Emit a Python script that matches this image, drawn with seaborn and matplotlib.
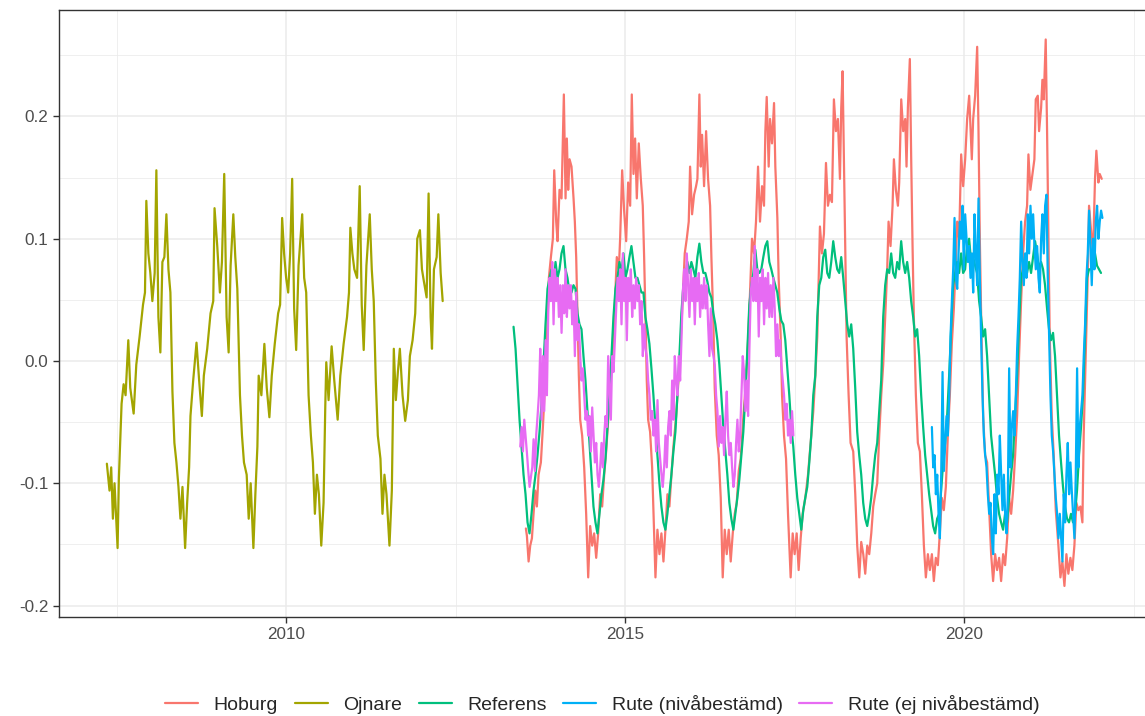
import numpy as np
import pandas as pd
import seaborn as sns
import matplotlib.pyplot as plt

# series names and colours (ggplot default hue palette)
series_names = ["Hoburg", "Ojnare", "Referens", "Rute (nivåbestämd)", "Rute (ej nivåbestämd)"]
series_colors = ["#F8766D", "#A3A500", "#00BF7D", "#00B0F6", "#E76BF3"]

# Ojnare, decimal year / value
ojnare_year = [
    2007.356, 2007.395, 2007.420, 2007.445, 2007.469, 2007.514, 2007.533, 2007.573, 2007.603, 2007.632,
    2007.672, 2007.701, 2007.751, 2007.790, 2007.839, 2007.889, 2007.918, 2007.938, 2007.968, 2007.997,
    2008.027, 2008.061, 2008.086, 2008.116, 2008.145, 2008.175, 2008.204, 2008.234, 2008.264, 2008.293,
    2008.323, 2008.352, 2008.382, 2008.412, 2008.441, 2008.471, 2008.510, 2008.540, 2008.569, 2008.589,
    2008.629, 2008.678, 2008.717, 2008.757, 2008.786, 2008.836, 2008.885, 2008.925, 2008.944, 2008.984,
    2009.023, 2009.053, 2009.087, 2009.122, 2009.152, 2009.181, 2009.221, 2009.250, 2009.280, 2009.319,
    2009.349, 2009.378, 2009.418, 2009.448, 2009.477, 2009.517, 2009.546, 2009.576, 2009.595, 2009.635,
    2009.679, 2009.714, 2009.753, 2009.788, 2009.832, 2009.882, 2009.911, 2009.941, 2009.970, 2010.000,
    2010.030, 2010.059, 2010.089, 2010.118, 2010.148, 2010.183, 2010.237, 2010.266, 2010.296, 2010.331,
    2010.365, 2010.395, 2010.424, 2010.454, 2010.483, 2010.518, 2010.552, 2010.577, 2010.592, 2010.626,
    2010.671, 2010.710, 2010.760, 2010.799, 2010.848, 2010.898, 2010.927, 2010.947, 2010.977, 2011.006,
    2011.046, 2011.085, 2011.115, 2011.144, 2011.184, 2011.233, 2011.263, 2011.292, 2011.322, 2011.352,
    2011.391, 2011.421, 2011.450, 2011.480, 2011.524, 2011.559, 2011.588, 2011.618, 2011.648, 2011.677,
    2011.717, 2011.756, 2011.796, 2011.825, 2011.865, 2011.904, 2011.934, 2011.973, 2012.003, 2012.032,
    2012.072, 2012.101, 2012.131, 2012.151, 2012.180, 2012.220, 2012.245, 2012.279, 2012.309,
]
ojnare_value = [
    -0.084, -0.106, -0.087, -0.129, -0.10, -0.153, -0.096, -0.035, -0.019, -0.028,
    0.017, -0.022, -0.043, -0.003, 0.02, 0.046, 0.056, 0.131, 0.088, 0.072,
    0.049, 0.072, 0.156, 0.036, 0.007, 0.081, 0.085, 0.12, 0.075, 0.056,
    -0.025, -0.067, -0.083, -0.103, -0.129, -0.103, -0.153, -0.116, -0.087, -0.045,
    -0.016, 0.015, -0.016, -0.045, -0.012, 0.01, 0.039, 0.049, 0.125, 0.094,
    0.056, 0.081, 0.153, 0.036, 0.007, 0.078, 0.12, 0.085, 0.059, -0.028,
    -0.061, -0.083, -0.093, -0.129, -0.10, -0.153, -0.109, -0.07, -0.012, -0.028,
    0.014, -0.022, -0.046, -0.012, 0.014, 0.039, 0.046, 0.117, 0.088, 0.068,
    0.056, 0.088, 0.149, 0.043, 0.009, 0.078, 0.12, 0.068, 0.056, -0.028,
    -0.061, -0.083, -0.125, -0.093, -0.109, -0.151, -0.116, -0.038, -0.001, -0.032,
    0.012, -0.016, -0.048, -0.012, 0.014, 0.036, 0.056, 0.109, 0.088, 0.075,
    0.068, 0.143, 0.046, 0.009, 0.078, 0.12, 0.075, 0.049, -0.016, -0.061,
    -0.08, -0.125, -0.093, -0.109, -0.151, -0.106, 0.01, -0.032, -0.009, 0.01,
    -0.028, -0.049, -0.032, 0.004, 0.017, 0.039, 0.10, 0.107, 0.075, 0.065,
    0.052, 0.137, 0.036, 0.01, 0.075, 0.085, 0.12, 0.072, 0.049,
]

# Hoburg, decimal year / value
hoburg_year = [
    2013.536, 2013.551, 2013.576, 2013.600, 2013.625, 2013.649, 2013.674, 2013.698, 2013.723, 2013.757,
    2013.787, 2013.821, 2013.846, 2013.875, 2013.905, 2013.934, 2013.954, 2013.983, 2014.003, 2014.032,
    2014.062, 2014.096, 2014.121, 2014.140, 2014.160, 2014.180, 2014.209, 2014.239, 2014.258, 2014.278,
    2014.298, 2014.317, 2014.337, 2014.366, 2014.396, 2014.425, 2014.455, 2014.484, 2014.514, 2014.543,
    2014.573, 2014.602, 2014.632, 2014.661, 2014.691, 2014.720, 2014.754, 2014.789, 2014.818, 2014.848,
    2014.877, 2014.907, 2014.926, 2014.956, 2014.985, 2015.015, 2015.044, 2015.074, 2015.098, 2015.123,
    2015.147, 2015.172, 2015.201, 2015.231, 2015.260, 2015.280, 2015.300, 2015.319, 2015.339, 2015.368,
    2015.398, 2015.418, 2015.447, 2015.476, 2015.506, 2015.535, 2015.565, 2015.594, 2015.624, 2015.653,
    2015.683, 2015.712, 2015.752, 2015.791, 2015.820, 2015.850, 2015.879, 2015.909, 2015.938, 2015.958,
    2015.987, 2016.017, 2016.046, 2016.066, 2016.095, 2016.115, 2016.135, 2016.164, 2016.194, 2016.223,
    2016.253, 2016.272, 2016.302, 2016.321, 2016.351, 2016.380, 2016.410, 2016.439, 2016.469, 2016.498,
    2016.528, 2016.557, 2016.587, 2016.616, 2016.646, 2016.675, 2016.704, 2016.744, 2016.783, 2016.813,
    2016.842, 2016.871, 2016.901, 2016.930, 2016.960, 2016.989, 2017.019, 2017.048, 2017.068, 2017.088,
    2017.117, 2017.137, 2017.166, 2017.196, 2017.215, 2017.245, 2017.264, 2017.294, 2017.314, 2017.343,
    2017.373, 2017.402, 2017.441, 2017.471, 2017.500, 2017.530, 2017.559, 2017.589, 2017.618, 2017.657,
    2017.697, 2017.736, 2017.775, 2017.805, 2017.834, 2017.873, 2017.903, 2017.932, 2017.962, 2017.991,
    2018.020, 2018.050, 2018.079, 2018.109, 2018.138, 2018.168, 2018.187, 2018.207, 2018.227, 2018.246,
    2018.266, 2018.296, 2018.325, 2018.364, 2018.394, 2018.423, 2018.453, 2018.482, 2018.512, 2018.541,
    2018.571, 2018.600, 2018.630, 2018.659, 2018.688, 2018.718, 2018.747, 2018.777, 2018.806, 2018.836,
    2018.865, 2018.885, 2018.914, 2018.944, 2018.964, 2018.993, 2019.023, 2019.042, 2019.072, 2019.101,
    2019.131, 2019.150, 2019.170, 2019.199, 2019.219, 2019.239, 2019.258, 2019.288, 2019.317, 2019.347,
    2019.376, 2019.406, 2019.435, 2019.465, 2019.494, 2019.524, 2019.553, 2019.582, 2019.612, 2019.641,
    2019.671, 2019.700, 2019.730, 2019.759, 2019.789, 2019.818, 2019.848, 2019.877, 2019.897, 2019.926,
    2019.956, 2019.985, 2020.015, 2020.044, 2020.074, 2020.093, 2020.113, 2020.133, 2020.162, 2020.192,
    2020.211, 2020.231, 2020.251, 2020.280, 2020.309, 2020.339, 2020.368, 2020.398, 2020.427, 2020.457,
    2020.486, 2020.516, 2020.545, 2020.575, 2020.604, 2020.634, 2020.663, 2020.693, 2020.722, 2020.752,
    2020.781, 2020.810, 2020.840, 2020.869, 2020.899, 2020.928, 2020.948, 2020.977, 2021.007, 2021.036,
    2021.056, 2021.086, 2021.105, 2021.135, 2021.154, 2021.174, 2021.203, 2021.223, 2021.243, 2021.262,
    2021.292, 2021.321, 2021.351, 2021.390, 2021.420, 2021.449, 2021.479, 2021.508, 2021.537, 2021.567,
    2021.596, 2021.626, 2021.655, 2021.685, 2021.714, 2021.744, 2021.763, 2021.793, 2021.822, 2021.842,
    2021.871, 2021.901, 2021.930, 2021.950, 2021.980, 2021.999, 2022.029,
]
hoburg_value = [
    -0.137, -0.143, -0.164, -0.151, -0.145, -0.125, -0.106, -0.119, -0.093, -0.083,
    -0.054, -0.016, 0.017, 0.068, 0.085, 0.10, 0.156, 0.114, 0.098, 0.14,
    0.133, 0.218, 0.133, 0.182, 0.14, 0.165, 0.159, 0.133, 0.114, 0.085,
    0.036, -0.012, -0.048, -0.061, -0.087, -0.125, -0.177, -0.135, -0.151, -0.141,
    -0.161, -0.141, -0.109, -0.119, -0.093, -0.074, -0.045, -0.016, 0.01, 0.046,
    0.085, 0.075, 0.10, 0.156, 0.123, 0.098, 0.146, 0.127, 0.218, 0.153,
    0.182, 0.133, 0.178, 0.149, 0.127, 0.085, 0.036, -0.016, -0.048, -0.058,
    -0.087, -0.125, -0.177, -0.138, -0.158, -0.141, -0.164, -0.138, -0.109, -0.119,
    -0.093, -0.07, -0.045, -0.012, 0.017, 0.052, 0.088, 0.10, 0.114, 0.159,
    0.12, 0.136, 0.143, 0.149, 0.218, 0.159, 0.185, 0.143, 0.188, 0.149,
    0.127, 0.085, 0.03, -0.022, -0.061, -0.077, -0.112, -0.177, -0.138, -0.158,
    -0.138, -0.164, -0.141, -0.125, -0.116, -0.09, -0.08, -0.045, -0.016, 0.017,
    0.056, 0.10, 0.088, 0.114, 0.159, 0.114, 0.143, 0.127, 0.188, 0.216,
    0.159, 0.198, 0.178, 0.211, 0.159, 0.117, 0.068, 0.02, -0.028, -0.061,
    -0.08, -0.125, -0.177, -0.141, -0.158, -0.141, -0.171, -0.145, -0.125, -0.112,
    -0.093, -0.067, -0.041, -0.012, 0.02, 0.11, 0.088, 0.104, 0.162, 0.127,
    0.136, 0.13, 0.214, 0.188, 0.198, 0.149, 0.207, 0.237, 0.165, 0.094,
    0.02, -0.028, -0.067, -0.074, -0.109, -0.151, -0.177, -0.148, -0.158, -0.174,
    -0.151, -0.158, -0.141, -0.119, -0.109, -0.10, -0.061, -0.028, -0.003, 0.036,
    0.075, 0.114, 0.094, 0.127, 0.165, 0.14, 0.127, 0.146, 0.214, 0.188,
    0.198, 0.159, 0.207, 0.247, 0.165, 0.094, 0.036, -0.028, -0.067, -0.074,
    -0.109, -0.151, -0.177, -0.158, -0.171, -0.158, -0.18, -0.161, -0.167, -0.141,
    -0.112, -0.122, -0.103, -0.061, -0.028, 0.014, 0.043, 0.081, 0.114, 0.10,
    0.169, 0.143, 0.165, 0.198, 0.217, 0.191, 0.165, 0.198, 0.217, 0.257,
    0.191, 0.10, 0.036, -0.045, -0.077, -0.083, -0.119, -0.158, -0.18, -0.158,
    -0.171, -0.161, -0.18, -0.158, -0.167, -0.145, -0.112, -0.125, -0.106, -0.077,
    -0.045, 0.004, 0.049, 0.088, 0.114, 0.127, 0.169, 0.14, 0.153, 0.165,
    0.214, 0.217, 0.188, 0.207, 0.23, 0.214, 0.263, 0.188, 0.10, 0.02,
    -0.045, -0.077, -0.122, -0.151, -0.177, -0.164, -0.184, -0.158, -0.174, -0.161,
    -0.171, -0.151, -0.116, -0.122, -0.119, -0.132, -0.061, 0.004, 0.068, 0.127,
    0.107, 0.088, 0.149, 0.172, 0.146, 0.153, 0.149,
]

# Referens, regular sampling from referens_start every referens_step years
referens_start = 2013.354
referens_step = 0.02947
referens_value = [
    0.028, 0.01, -0.019, -0.048, -0.07, -0.093, -0.109, -0.132, -0.141, -0.125,
    -0.106, -0.093, -0.077, -0.058, -0.035, -0.003, 0.03, 0.059, 0.068, 0.075,
    0.062, 0.081, 0.068, 0.075, 0.088, 0.094, 0.075, 0.068, 0.056, 0.056,
    0.062, 0.059, 0.039, 0.03, 0.026, 0.004, -0.016, -0.041, -0.067, -0.093,
    -0.119, -0.132, -0.141, -0.125, -0.109, -0.097, -0.08, -0.054, -0.028, 0.004,
    0.036, 0.059, 0.068, 0.081, 0.072, 0.088, 0.068, 0.075, 0.085, 0.094,
    0.081, 0.068, 0.068, 0.062, 0.056, 0.056, 0.036, 0.026, 0.014, -0.006,
    -0.028, -0.054, -0.077, -0.10, -0.119, -0.132, -0.138, -0.125, -0.109, -0.093,
    -0.074, -0.058, -0.028, 0.004, 0.039, 0.062, 0.068, 0.081, 0.072, 0.081,
    0.075, 0.068, 0.085, 0.096, 0.081, 0.072, 0.072, 0.065, 0.056, 0.052,
    0.039, 0.03, 0.017, -0.003, -0.028, -0.054, -0.074, -0.093, -0.116, -0.129,
    -0.138, -0.125, -0.112, -0.097, -0.077, -0.058, -0.028, 0.01, 0.046, 0.062,
    0.072, 0.091, 0.075, 0.072, 0.075, 0.085, 0.094, 0.098, 0.081, 0.075,
    0.068, 0.062, 0.056, 0.043, 0.033, 0.03, 0.017, -0.006, -0.028, -0.054,
    -0.07, -0.093, -0.112, -0.125, -0.138, -0.122, -0.112, -0.103, -0.083, -0.061,
    -0.028, -0.012, 0.036,
    0.062, 0.068, 0.085, 0.091, 0.072, 0.068, 0.081, 0.098, 0.085, 0.075,
    0.072, 0.085, 0.068, 0.049, 0.03, 0.02, 0.03, 0.01, -0.022, -0.058,
    -0.077, -0.093, -0.116, -0.129, -0.135, -0.125, -0.112, -0.093, -0.077, -0.067,
    -0.041, -0.016, 0.036, 0.062, 0.075, 0.072, 0.088, 0.072, 0.068, 0.081,
    0.075, 0.098, 0.081, 0.072, 0.081, 0.068, 0.049, 0.036, 0.02, 0.026,
    0.004, -0.028, -0.054, -0.077, -0.093, -0.109, -0.122, -0.135, -0.141, -0.129,
    -0.125, -0.106, -0.083, -0.067, -0.045, -0.012, 0.026, 0.062, 0.072, 0.081,
    0.072, 0.088, 0.072, 0.075, 0.094, 0.10, 0.081, 0.085, 0.078, 0.072,
    0.049, 0.036, 0.02, 0.026, 0.004, -0.028, -0.061, -0.077, -0.093, -0.112,
    -0.125, -0.132, -0.138, -0.125, -0.132, -0.112, -0.093, -0.077, -0.045, -0.012,
    0.03, 0.068, 0.075, 0.085, 0.072, 0.081, 0.072, 0.085, 0.098, 0.088,
    0.075, 0.081, 0.075, 0.062, 0.043, 0.026, 0.017, 0.023, 0.004, -0.028,
    -0.061, -0.083, -0.103, -0.119, -0.129, -0.132, -0.125, -0.132, -0.125, -0.106,
    -0.077, -0.054, -0.028, 0.02, 0.068, 0.075, 0.075, 0.081, 0.088, 0.078,
    0.075, 0.072,
]

# Rute (nivåbestämd), weekly-ish sampling
rute_niva_start = 2019.524
rute_niva_step = 0.01965
rute_niva_value = [
    -0.054, -0.087, -0.077, -0.109, -0.093, -0.125, -0.145, -0.093, -0.009, -0.09,
    -0.067, -0.045, -0.061, -0.028, 0.02, 0.049, 0.075, 0.117, 0.068, 0.059,
    0.088, 0.114, 0.10, 0.127, 0.075, 0.12, 0.10, 0.081, 0.094, 0.068,
    0.088, 0.056, 0.12, 0.088, 0.062, 0.133, 0.068, 0.017, -0.028, -0.061,
    -0.077, -0.087, -0.109, -0.125, -0.116, -0.145, -0.158, -0.109, -0.141, -0.093,
    -0.109, -0.061, -0.093, -0.122, -0.093, -0.125, -0.141, -0.112, -0.006, -0.087,
    -0.054, -0.041, -0.061, -0.028, 0.01, 0.036, 0.068, 0.114, 0.081, 0.062,
    0.088, 0.068, 0.12, 0.088, 0.127, 0.10, 0.12, 0.094, 0.075, 0.094,
    0.068, 0.056, 0.10, 0.12, 0.088, 0.127, 0.136, 0.068, 0.02, -0.028,
    -0.061, -0.074, -0.093, -0.112, -0.125, -0.145, -0.125, -0.145, -0.164, -0.109,
    -0.132, -0.093, -0.067, -0.109, -0.083, -0.106, -0.125, -0.145, -0.093, -0.006,
    -0.087, -0.054, -0.041, -0.028, 0.004, 0.03, 0.068, 0.088, 0.123, 0.094,
    0.062, 0.10, 0.075, 0.114, 0.127, 0.10, 0.114, 0.123, 0.117,
]

# Rute (ej nivåbestämd), weekly-ish sampling
rute_ej_start = 2013.453
rute_ej_step = 0.01965
rute_ej_value = [
    -0.07, -0.054, -0.074, -0.048, -0.061, -0.075, -0.09, -0.103, -0.095, -0.087,
    -0.064, -0.09, -0.06, -0.045, -0.028, 0.01, -0.048, 0.004, -0.041, 0.017,
    -0.028, 0.039, 0.068, 0.049, 0.081, 0.03, 0.075, 0.049, 0.068, 0.036,
    0.062, 0.023, 0.062, 0.039, 0.075, 0.036, 0.062, 0.043, 0.062, 0.03,
    0.049, 0.004, 0.056, 0.017, 0.03, 0.004, -0.016, -0.006, -0.028, -0.048,
    -0.041, -0.061, -0.045, -0.074, -0.038, -0.061, -0.083, -0.067, -0.093, -0.103,
    -0.087, -0.067, -0.087, -0.061, -0.045, -0.054, 0.004, -0.022, -0.048, 0.004,
    -0.009, 0.017, 0.043, 0.068, 0.049, 0.075, 0.03, 0.088, 0.049, 0.068,
    0.017, 0.068, 0.049, 0.075, 0.036, 0.062, 0.043, 0.068, 0.049, 0.062,
    0.03, 0.049, 0.004, 0.03, 0.01, 0.004, -0.016, -0.028, -0.048, -0.041,
    -0.061, -0.048, -0.074, -0.032, -0.067, -0.08, -0.093, -0.103, -0.087, -0.061,
    -0.087, -0.054, -0.041, -0.061, -0.016, -0.048, 0.004, -0.016, -0.028, 0.004,
    -0.016, 0.017, 0.056, 0.075, 0.049, 0.088, 0.062, 0.036, 0.075, 0.049,
    0.068, 0.03, 0.068, 0.049, 0.072, 0.036, 0.062, 0.043, 0.068, 0.043,
    0.062, 0.03, 0.004, 0.043, 0.01, 0.004, -0.003, -0.028, -0.041, -0.07,
    -0.045, -0.067, -0.054, -0.077, -0.048, -0.025, -0.061, -0.077, -0.067, -0.087,
    -0.103, -0.093, -0.067, -0.048, -0.074, -0.061, -0.028, 0.004, -0.009, -0.041,
    -0.016, -0.045, 0.01, 0.056, 0.068, 0.049, 0.094, 0.049, 0.075, 0.02,
    0.068, 0.049, 0.075, 0.03, 0.068, 0.043, 0.072, 0.036, 0.062, 0.036,
    0.068, 0.043, 0.004, 0.03, 0.004, 0.017, -0.003, -0.016, -0.028, -0.048,
    -0.035, -0.061, -0.048, -0.067, -0.041, -0.061,
]

x_ticks = [2010, 2015, 2020]
x_minor = [2007.5, 2012.5, 2017.5, 2022.5]
y_ticks = [-0.2, -0.1, 0.0, 0.1, 0.2]
y_ticklabels = ["-0.2", "-0.1", "0.0", "0.1", "0.2"]
y_minor = [-0.15, -0.05, 0.05, 0.15, 0.25]


def regular(start, step, values):
    return np.round(start + step * np.arange(len(values)), 4)


frames = [
    pd.DataFrame({"year": hoburg_year, "value": hoburg_value, "serie": series_names[0]}),
    pd.DataFrame({"year": ojnare_year, "value": ojnare_value, "serie": series_names[1]}),
    pd.DataFrame({"year": regular(referens_start, referens_step, referens_value),
                  "value": referens_value, "serie": series_names[2]}),
    pd.DataFrame({"year": regular(rute_niva_start, rute_niva_step, rute_niva_value),
                  "value": rute_niva_value, "serie": series_names[3]}),
    pd.DataFrame({"year": regular(rute_ej_start, rute_ej_step, rute_ej_value),
                  "value": rute_ej_value, "serie": series_names[4]}),
]
df = pd.concat(frames, ignore_index=True)

sns.set_style("white")
plt.rcParams['font.family'] = ['Liberation Sans', 'DejaVu Sans']

fig = plt.figure(figsize=(11.45, 7.16), dpi=100)
ax = fig.add_axes([59 / 1145, 99 / 716, 1095 / 1145, 607 / 716])

sns.lineplot(data=df, x="year", y="value", hue="serie", hue_order=series_names,
             palette=series_colors, estimator=None, sort=False, linewidth=1.6, ax=ax)

ax.set_xlim(2006.65, 2022.80)
ax.set_ylim(-0.2094, 0.2871)
ax.set_xticks(x_ticks)
ax.set_xticklabels([str(t) for t in x_ticks])
ax.set_xticks(x_minor, minor=True)
ax.set_yticks(y_ticks)
ax.set_yticklabels(y_ticklabels)
ax.set_yticks(y_minor, minor=True)
ax.set_xlabel("")
ax.set_ylabel("")

ax.set_axisbelow(True)
ax.grid(which="major", color="#EBEBEB", linewidth=1.1)
ax.grid(which="minor", color="#EBEBEB", linewidth=0.55)
for s in ax.spines.values():
    s.set_visible(True)
    s.set_color("#333333")
    s.set_linewidth(1.0)
ax.tick_params(which="major", direction="out", length=4, width=1.0, color="#333333",
               labelsize=12.3, labelcolor="#4D4D4D", pad=3.5, left=True, bottom=True)
ax.tick_params(which="minor", length=0)

handles, labels = ax.get_legend_handles_labels()
ax.get_legend().remove()
fig.legend(handles, labels, loc="center", bbox_to_anchor=(0.526, 1 - 704 / 716), ncol=5,
           frameon=False, fontsize=14.0, handlelength=1.7, handletextpad=0.8,
           columnspacing=0.85, borderaxespad=0)

fig.savefig("out.png", dpi=100)
